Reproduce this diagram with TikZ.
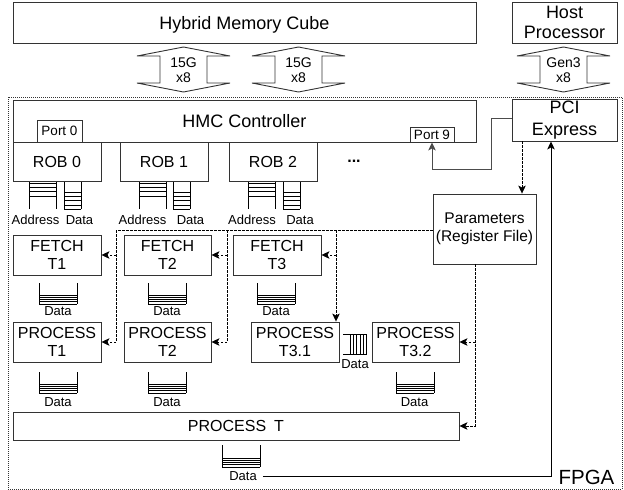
\documentclass[tikz,border=0pt]{standalone}
\usepackage{fontspec}
\setmainfont{Liberation Sans}
\usetikzlibrary{arrows.meta,calc}
\newcommand\fsz[2]{\fontsize{#1}{#2}\selectfont}
\tikzset{
  outline/.style={draw=black!80, line width=0.9pt},
  blk/.style={outline, inner sep=0pt, align=center},
  fifo/.style={draw=black, line width=0.8pt},
  lbl/.style={inner sep=1pt, align=center},
  arr/.style={draw=black, line width=0.9pt, -{Stealth[length=8pt,width=7.5pt,inset=2pt]}},
  darr/.style={arr, line width=0.7pt, dash pattern=on 2.5pt off 1.5pt},
  dline/.style={draw=black, line width=0.7pt, dash pattern=on 2.5pt off 1.5pt},
}
\newcommand\fifoAddr[2]{%
  \draw[fifo] (#1,#2) -- ++(0,27) (#1+27,#2) -- ++(0,27);
  \foreach \d in {1,5,9.5,14} \draw[fifo] (#1,#2+\d) -- ++(27,0);
}
\newcommand\fifoNarrow[2]{%
  \draw[fifo] (#1,#2) -- ++(0,27) (#1+17,#2) -- ++(0,27);
  \foreach \d in {10.7,14.7,18.7,23,27} \draw[fifo] (#1,#2+\d) -- ++(17,0);
}
\newcommand\fifoWide[3]{%
  \draw[fifo] (#1,#2) -- ++(0,#3) (#1+38,#2) -- ++(0,#3);
  \foreach \d in {9,6.75,4.5,2.25,0} \draw[fifo] (#1,#2+#3-\d) -- ++(38,0);
}
\newcommand\dblarrow[1]{%
  \draw[outline] (#1-46.5,56) -- (#1,47) -- (#1+46.5,56) -- (#1+23.5,56) -- (#1+23.5,83)
    -- (#1+46.5,83) -- (#1,92) -- (#1-46.5,83) -- (#1-23.5,83) -- (#1-23.5,56) -- cycle;
}
\begin{document}
\begin{tikzpicture}[x=1pt,y=-1pt]
\useasboundingbox (0,0) rectangle (624,490);

% FPGA region
\draw[draw=black!80, line width=0.8pt, dash pattern=on 1pt off 1pt] (8,97) rectangle (622,489);
\node[lbl, font=\fsz{20.5}{22}] (fpga) at (586.5,477) {FPGA};

% top boxes
\node[blk, minimum width=463pt, minimum height=41pt, text depth=0pt, font=\fsz{18}{20}] (hmc) at (244.5,22.5) {Hybrid Memory Cube};
\node[blk, minimum width=105pt, minimum height=41pt, font=\fsz{18}{20.5}] (host) at (564.5,22.5) {Host\\Processor};

% link arrows
\dblarrow{183.5}
\dblarrow{298.5}
\dblarrow{563.5}
\node[lbl, font=\fsz{14}{15}] (l1) at (183.5,70.5) {15G\\x8};
\node[lbl, font=\fsz{14}{15}] (l2) at (298.5,70.5) {15G\\x8};
\node[lbl, font=\fsz{14}{15}] (l3) at (563.5,70.5) {Gen3\\x8};

% controller and ports
\node[blk, minimum width=463pt, minimum height=42pt, font=\fsz{18}{20}] (ctrl) at (244.5,121) {HMC Controller};
\node[blk, minimum width=45pt, minimum height=22pt, font=\fsz{13.5}{15}] (port0) at (59.5,131) {Port 0};
\node[blk, minimum width=44pt, minimum height=15pt, font=\fsz{13.5}{15}] (port9) at (432,134.5) {Port 9};
\node[blk, minimum width=105pt, minimum height=42pt, font=\fsz{18}{22}] (pci) at (564.5,120) {PCI\\Express};

% ROBs
\node[blk, minimum width=88pt, minimum height=39pt, font=\fsz{16}{18}] (rob0) at (57,161.5) {ROB 0};
\node[blk, minimum width=88pt, minimum height=39pt, font=\fsz{16}{18}] (rob1) at (164,161.5) {ROB 1};
\node[blk, minimum width=88pt, minimum height=39pt, font=\fsz{16}{18}] (rob2) at (273,161.5) {ROB 2};
\node[lbl, font=\bfseries\fsz{16}{18}] (dots) at (354,161) {...};

% ROB fifos
\fifoAddr{29}{182}
\fifoNarrow{64}{182}
\fifoAddr{139}{182}
\fifoNarrow{173}{182}
\fifoAddr{248}{182}
\fifoNarrow{283}{182}
\node[lbl, font=\fsz{13}{14}] (a0) at (35.5,220) {Address};
\node[lbl, font=\fsz{13}{14}] (d0) at (79.5,220) {Data};
\node[lbl, font=\fsz{13}{14}] (a1) at (142.5,220) {Address};
\node[lbl, font=\fsz{13}{14}] (d1) at (190.5,220) {Data};
\node[lbl, font=\fsz{13}{14}] (a2) at (252,220) {Address};
\node[lbl, font=\fsz{13}{14}] (d2) at (300,220) {Data};

% Parameters
\node[blk, minimum width=103pt, minimum height=70pt, font=\fsz{15.5}{18}] (params) at (484.5,229) {Parameters\\(Register File)};

% FETCH
\node[blk, minimum width=88pt, minimum height=40pt, font=\fsz{16}{18}] (fetch1) at (57,255) {FETCH\\T1};
\node[blk, minimum width=87pt, minimum height=40pt, font=\fsz{16}{18}] (fetch2) at (167.5,255) {FETCH\\T2};
\node[blk, minimum width=88pt, minimum height=40pt, font=\fsz{16}{18}] (fetch3) at (277,255) {FETCH\\T3};
\fifoWide{39}{283}{21}
\fifoWide{148}{283}{21}
\fifoWide{257}{283}{21}
\node[lbl, font=\fsz{13}{14}] (fd1) at (58,311.5) {Data};
\node[lbl, font=\fsz{13}{14}] (fd2) at (167,311.5) {Data};
\node[lbl, font=\fsz{13}{14}] (fd3) at (276,311.5) {Data};

% PROCESS
\node[blk, minimum width=88pt, minimum height=40pt, font=\fsz{16}{18}] (proc1) at (57,342) {PROCESS\\T1};
\node[blk, minimum width=87pt, minimum height=40pt, font=\fsz{16}{18}] (proc2) at (167.5,342) {PROCESS\\T2};
\node[blk, minimum width=88pt, minimum height=40pt, font=\fsz{16}{18}] (proc31) at (295,342) {PROCESS\\T3.1};
\node[blk, minimum width=87pt, minimum height=40pt, font=\fsz{16}{18}] (proc32) at (415.5,342) {PROCESS\\T3.2};
\draw[fifo] (343,334) -- (367,334) (343,354) -- (367,354);
\foreach \x in {350,353.3,356.7,360,363.3,366} \draw[fifo] (\x,334) -- (\x,354);
\node[lbl, font=\fsz{13}{14}] (pd3) at (355,364.5) {Data};
\fifoWide{39}{372}{21}
\fifoWide{148}{372}{21}
\fifoWide{396}{372}{21}
\node[lbl, font=\fsz{13}{14}] (pd1) at (58,402.5) {Data};
\node[lbl, font=\fsz{13}{14}] (pd2) at (167,402.5) {Data};
\node[lbl, font=\fsz{13}{14}] (pd32) at (414.5,402.5) {Data};

\node[blk, minimum width=446pt, minimum height=28pt, font=\fsz{16}{18}] (procT) at (236,426) {PROCESS\enspace T};
\fifoWide{222}{445}{22}
\node[lbl, font=\fsz{13}{14}] (td) at (243,476.5) {Data};

% connectors
\draw[arr, draw=black!70] (pci.west |- 0,118) -- (491,118) -- (491,169) -| (port9.south);
\draw[darr] (522,0 |- pci.south) -- (522,0 |- params.north);
\draw[dline] (params.west |- 0,230) -- (116,230);
\draw[darr] (116,230) |- (proc1.east);
\draw[darr] (116,0 |- fetch1.east) -- (fetch1.east);
\draw[darr] (227,230) |- (proc2.east);
\draw[darr] (227,0 |- fetch2.east) -- (fetch2.east);
\draw[darr] (336,230) -- (336,0 |- proc31.north);
\draw[darr] (336,0 |- fetch3.east) -- (fetch3.east);
\draw[darr] (475,0 |- params.south) |- (procT.east);
\draw[darr] (475,0 |- proc32.east) -- (proc32.east);
\draw[arr] ([xshift=5pt]td.east) -- (551,0 |- td.east) -- (551,0 |- pci.south);
\end{tikzpicture}
\end{document}
